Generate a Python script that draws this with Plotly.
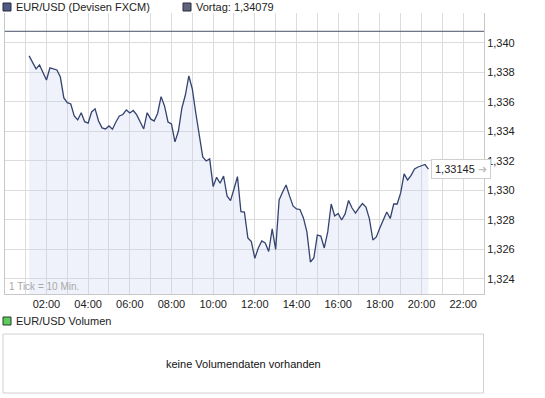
import plotly.graph_objects as go

# ---------------- data ----------------
DAY = "2013-01-15"
times = [
    "01:10", "01:20", "01:30", "01:40", "01:50",
    "02:00", "02:10", "02:20", "02:30", "02:40", "02:50",
    "03:00", "03:10", "03:20", "03:30", "03:40", "03:50",
    "04:00", "04:10", "04:20", "04:30", "04:40", "04:50",
    "05:00", "05:10", "05:20", "05:30", "05:40", "05:50",
    "06:00", "06:10", "06:20", "06:30", "06:40", "06:50",
    "07:00", "07:10", "07:20", "07:30", "07:40", "07:50",
    "08:00", "08:10", "08:20", "08:30", "08:40", "08:50",
    "09:00", "09:10", "09:20", "09:30", "09:40", "09:50",
    "10:00", "10:10", "10:20", "10:30", "10:40", "10:50",
    "11:00", "11:10", "11:20", "11:30", "11:40", "11:50",
    "12:00", "12:10", "12:20", "12:30", "12:40", "12:50",
    "13:00", "13:10", "13:20", "13:30", "13:40", "13:50",
    "14:00", "14:10", "14:20", "14:30", "14:40", "14:50",
    "15:00", "15:10", "15:20", "15:30", "15:40", "15:50",
    "16:00", "16:10", "16:20", "16:30", "16:40", "16:50",
    "17:00", "17:10", "17:20", "17:30", "17:40", "17:50",
    "18:00", "18:10", "18:20", "18:30", "18:40", "18:50",
    "19:00", "19:10", "19:20", "19:30", "19:40", "19:50",
    "20:00", "20:10", "20:20",
]
prices = [
    1.33912, 1.33871, 1.33824, 1.33851, 1.33797,
    1.33749, 1.33831, 1.33824, 1.33817, 1.33769, 1.33627,
    1.33595, 1.33586, 1.33505, 1.33478, 1.33527, 1.33466,
    1.33456, 1.33532, 1.33553, 1.33471, 1.33424, 1.33417,
    1.33437, 1.33415, 1.33464, 1.33505, 1.33515, 1.33546,
    1.33525, 1.33542, 1.33512, 1.33464, 1.33417, 1.33527,
    1.33485, 1.33471, 1.33522, 1.33636, 1.33573, 1.33464,
    1.33451, 1.33329, 1.33403, 1.33559, 1.33647, 1.33776,
    1.33688, 1.33525, 1.33363, 1.33227, 1.33200, 1.33214,
    1.33026, 1.33089, 1.33049, 1.33098, 1.32963, 1.32931,
    1.33010, 1.33094, 1.32856, 1.32854, 1.32678, 1.32653,
    1.32540, 1.32610, 1.32658, 1.32644, 1.32586, 1.32739,
    1.32600, 1.32936, 1.32990, 1.33037, 1.32963, 1.32895,
    1.32875, 1.32871, 1.32814, 1.32719, 1.32515, 1.32542,
    1.32698, 1.32691, 1.32610, 1.32719, 1.32908, 1.32827,
    1.32844, 1.32800, 1.32841, 1.32932, 1.32881, 1.32847,
    1.32881, 1.32912, 1.32888, 1.32807, 1.32664, 1.32685,
    1.32746, 1.32800, 1.32854, 1.32810, 1.32908, 1.32908,
    1.32983, 1.33112, 1.33071, 1.33102, 1.33146, 1.33159,
    1.33166, 1.33176, 1.33145,
]
prev_close = 1.34079
y_ticks = [1.324, 1.326, 1.328, 1.330, 1.332, 1.334, 1.336, 1.338, 1.340]
x_hours = ["00:00", "01:00", "02:00", "03:00", "04:00", "05:00", "06:00",
           "07:00", "08:00", "09:00", "10:00", "11:00", "12:00", "13:00",
           "14:00", "15:00", "16:00", "17:00", "18:00", "19:00", "20:00",
           "21:00", "22:00", "23:00"]
x_labels = ["", "", "02:00", "", "04:00", "", "06:00", "", "08:00", "",
            "10:00", "", "12:00", "", "14:00", "", "16:00", "", "18:00", "",
            "20:00", "", "22:00", ""]
series_name = "EUR/USD (Devisen FXCM)"
prev_label = "Vortag: 1,34079"
volume_name = "EUR/USD Volumen"
volume_msg = "keine Volumendaten vorhanden"
tick_note = "1 Tick = 10 Min."

assert len(times) == len(prices)

# ---------------- layout helpers ----------------
W, H = 545, 398
FONT = "Liberation Sans, Arial, sans-serif"


def px(x):
    return x / W


def py(y):
    return 1 - y / H


xs = [f"{DAY} {t}" for t in times]
x_tick_vals = [f"{DAY} {h}" for h in x_hours]

fig = go.Figure()
fig.add_trace(go.Scatter(
    x=xs, y=prices, mode="lines",
    line=dict(color="#34436f", width=1.3),
    fill="tozeroy", fillcolor="rgba(190,202,235,0.25)",
    hoverinfo="skip", showlegend=False,
))

last_txt = f"{prices[-1]:.5f}".replace(".", ",")

shapes = [
    # previous close line
    dict(type="line", xref="x domain", yref="y", x0=0, x1=1,
         y0=prev_close, y1=prev_close, line=dict(color="#4a5068", width=1)),
    # legend squares
    dict(type="rect", xref="paper", yref="paper", x0=px(3), x1=px(11),
         y0=py(11), y1=py(3), fillcolor="#4c5a86",
         line=dict(color="#2a2a3a", width=1)),
    dict(type="rect", xref="paper", yref="paper", x0=px(183), x1=px(191),
         y0=py(11), y1=py(3), fillcolor="#60647a",
         line=dict(color="#2a2a3a", width=1)),
    dict(type="rect", xref="paper", yref="paper", x0=px(3), x1=px(11),
         y0=py(325), y1=py(317), fillcolor="#5ccc5c",
         line=dict(color="#2a3a2a", width=1)),
    # volume panel box
    dict(type="rect", xref="paper", yref="paper", x0=px(3), x1=px(483.5),
         y0=py(393), y1=py(334), fillcolor="rgba(0,0,0,0)",
         line=dict(color="#d0d0d0", width=1)),
]

annotations = [
    dict(xref="paper", yref="paper", x=px(14), y=py(7), xanchor="left",
         yanchor="middle", text=series_name, showarrow=False,
         font=dict(family=FONT, size=11, color="#222")),
    dict(xref="paper", yref="paper", x=px(194), y=py(7), xanchor="left",
         yanchor="middle", text=prev_label, showarrow=False,
         font=dict(family=FONT, size=11, color="#222")),
    dict(xref="paper", yref="paper", x=px(14), y=py(321), xanchor="left",
         yanchor="middle", text=volume_name, showarrow=False,
         font=dict(family=FONT, size=11, color="#222")),
    dict(xref="paper", yref="paper", x=px(243), y=py(364), xanchor="center",
         yanchor="middle", text=volume_msg, showarrow=False,
         font=dict(family=FONT, size=11, color="#111")),
    dict(xref="paper", yref="paper", x=px(7), y=py(286), xanchor="left",
         yanchor="middle", text=tick_note, showarrow=False,
         font=dict(family=FONT, size=10, color="#a8a8a8")),
    dict(x=xs[-1], y=prices[-1], xref="x", yref="y", xanchor="left",
         yanchor="middle", xshift=3, showarrow=False,
         text=last_txt + " <span style='color:#c0c0c0'>➜</span>",
         bgcolor="white", bordercolor="#cfcfcf", borderwidth=1, borderpad=3,
         font=dict(family=FONT, size=11, color="#222")),
]

fig.update_layout(
    width=W, height=H,
    margin=dict(l=0, r=0, t=0, b=0),
    paper_bgcolor="white", plot_bgcolor="white",
    separators=",.",
    showlegend=False,
    shapes=shapes, annotations=annotations,
    xaxis=dict(
        domain=[px(4.8), px(484)],
        type="date",
        range=[f"{DAY} 00:00", f"{DAY} 23:00"],
        tickmode="array", tickvals=x_tick_vals, ticktext=x_labels,
        showgrid=True, gridcolor="#dcdcdc", gridwidth=1,
        showline=True, linecolor="#c8c8c8", linewidth=1, mirror=False,
        ticks="", zeroline=False,
        tickfont=dict(family=FONT, size=11, color="#222"),
    ),
    yaxis=dict(
        domain=[py(294), py(13)],
        range=[1.32298, 1.34203],
        side="right",
        tickmode="array", tickvals=y_ticks, tickformat=".3f",
        showgrid=True, gridcolor="#dcdcdc", gridwidth=1,
        showline=True, linecolor="#c8c8c8", linewidth=1, mirror=True,
        ticks="", zeroline=False,
        tickfont=dict(family=FONT, size=11, color="#222"),
    ),
)

fig.write_html(
    "out.html",
    config={"displayModeBar": False},
    post_script="document.body.style.margin='0';document.body.style.padding='0';",
)
